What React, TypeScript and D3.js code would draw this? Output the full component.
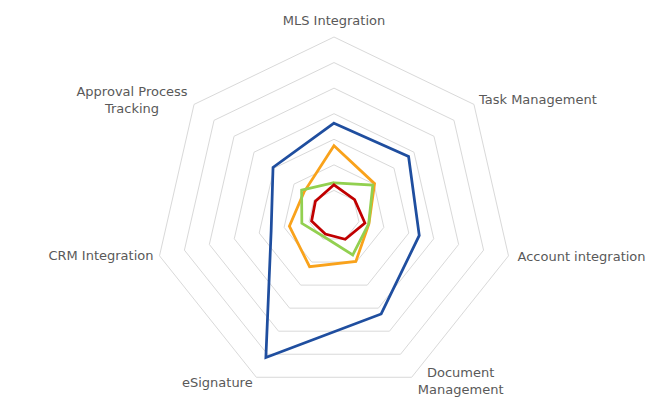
import React from "react";
import * as d3 from "d3";

const categories = [
  ["MLS Integration"],
  ["Task Management"],
  ["Account integration"],
  ["Document", "Management"],
  ["eSignature"],
  ["CRM Integration"],
  ["Approval Process", "Tracking"],
];
const seriesA = [3.63, 3.73, 3.42, 4.25, 6.14, 2.52, 3.05];
const seriesB = [2.75, 2.03, 1.4, 1.97, 2.2, 1.79, 1.5];
const seriesC = [1.3, 1.94, 1.39, 1.69, 0.9, 1.29, 1.62];
const seriesD = [1.22, 1.03, 1.24, 1.01, 0.78, 0.9, 0.93];
const ringTicks = [1, 2, 3, 4, 5, 6, 7];

const series = [
  { name: "A", values: seriesA, color: "#1F4E9F" },
  { name: "B", values: seriesB, color: "#F9A21B" },
  { name: "C", values: seriesC, color: "#92D050" },
  { name: "D", values: seriesD, color: "#C00000" },
];

// label placement relative to the outer vertex: [dx, dy, anchor]
const labelOffsets: [number, number, string][] = [
  [0, -12, "middle"],
  [5, 0, "start"],
  [9, 5, "start"],
  [49, 0, "middle"],
  [-39, 10, "middle"],
  [-6, 4, "end"],
  [-62, -8, "middle"],
];

const W = 662;
const H = 405;
const cx = 334;
const cy = 216;
const R = 179;

export default function App() {
  const n = categories.length;
  const angle = (i: number) => (i * 2 * Math.PI) / n;
  const r = d3.scaleLinear().domain([0, 7]).range([0, R]);
  const line = d3
    .lineRadial<number>()
    .angle((_, i) => angle(i))
    .radius((d) => r(d))
    .curve(d3.curveLinearClosed);

  return (
    <div style={{ position: "absolute", left: 0, top: 0 }}>
      <svg width={W} height={H} style={{ display: "block", background: "#fff" }}>
        <g transform={`translate(${cx},${cy})`}>
          {ringTicks.map((t) => (
            <path
              key={t}
              d={line(categories.map(() => t)) ?? ""}
              fill="none"
              stroke="#D9D9D9"
              strokeWidth={1}
            />
          ))}
          {series.map((s) => (
            <path
              key={s.name}
              d={line(s.values) ?? ""}
              fill="none"
              stroke={s.color}
              strokeWidth={2.75}
              strokeLinejoin="miter"
            />
          ))}
        </g>
        {categories.map((lines, i) => {
          const a = angle(i);
          const vx = cx + R * Math.sin(a);
          const vy = cy - R * Math.cos(a);
          const [dx, dy, anchor] = labelOffsets[i];
          return (
            <text
              key={i}
              x={vx + dx}
              y={vy + dy}
              textAnchor={anchor}
              fontFamily="'DejaVu Sans', sans-serif"
              fontSize={13}
              fill="#595959"
            >
              {lines.map((l, j) => (
                <tspan key={j} x={vx + dx} dy={j === 0 ? 0 : 16.5}>
                  {l}
                </tspan>
              ))}
            </text>
          );
        })}
      </svg>
    </div>
  );
}
